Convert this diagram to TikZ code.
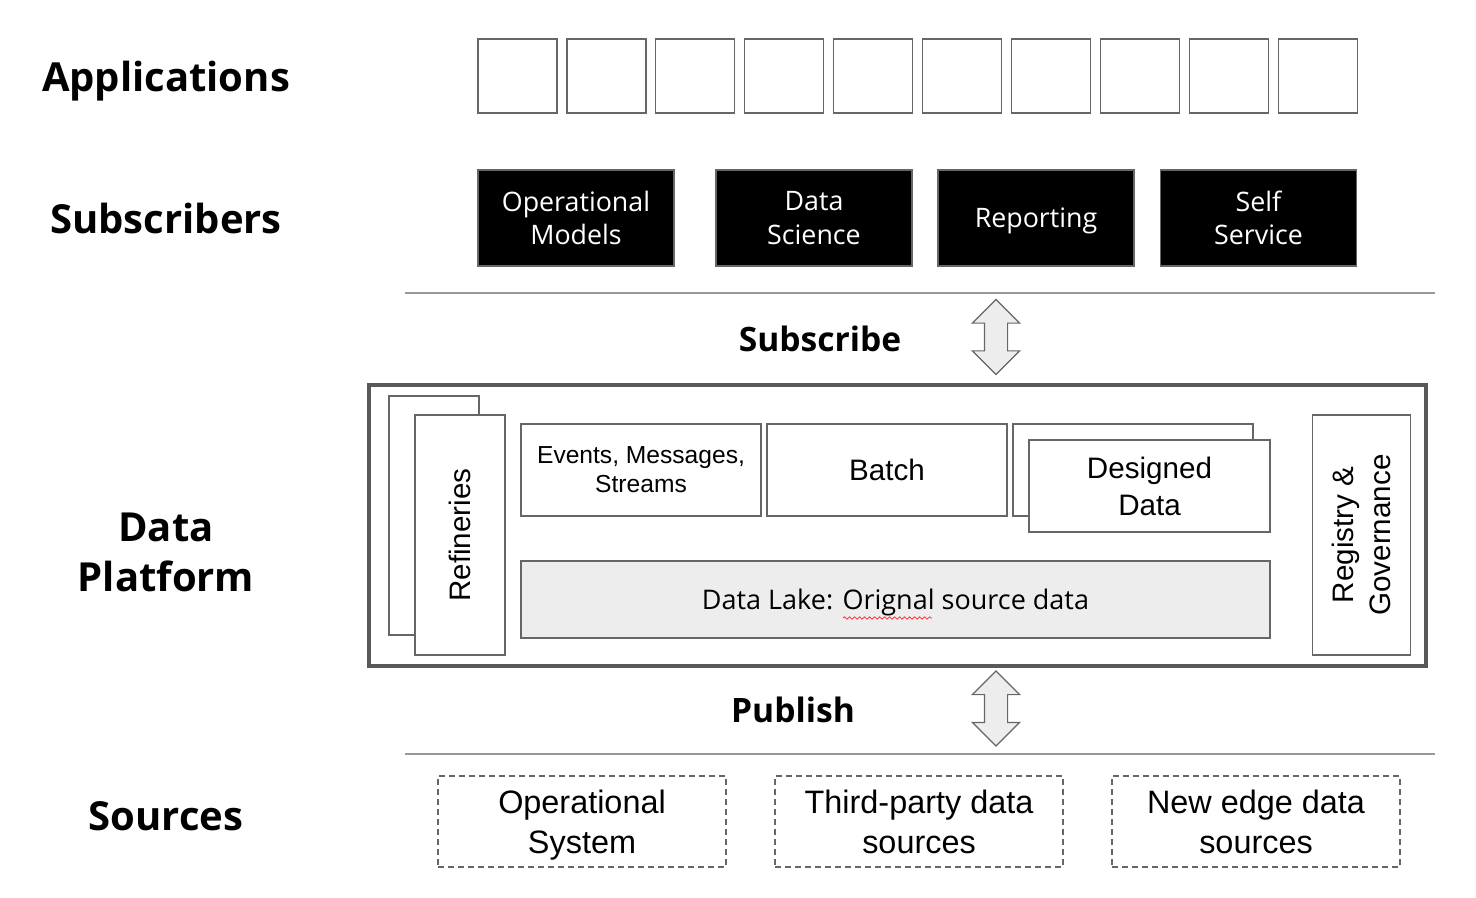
\documentclass[tikz,border=0pt]{standalone}
\usepackage{fontspec}
\setmainfont{Liberation Sans}
\newfontfamily\headfont{Open Sans}
\usetikzlibrary{shapes.arrows,decorations.pathmorphing}

\begin{document}
\begin{tikzpicture}[x=0.5pt,y=-0.5pt,
    every node/.style={inner sep=0pt},
    layer/.style={font=\headfont\bfseries\fontsize{20}{25}\selectfont, align=center},
    appbox/.style={draw=black!60, line width=0.6pt, minimum width=39.5pt, minimum height=37pt},
    subbox/.style={draw=black!60, fill=black, text=white, line width=0.6pt, minimum width=98pt, minimum height=48pt, align=center, font=\headfont\fontsize{13.4}{16.6}\selectfont},
    part/.style={draw=black!60, fill=white, line width=0.6pt, align=center, font=\fontsize{14.8}{18.5}\selectfont},
    source/.style={draw=black!60, dash pattern=on 3pt off 2pt, line width=0.6pt, minimum width=144pt, minimum height=45.5pt, align=center, text depth=0pt, font=\fontsize{16.2}{20}\selectfont},
    flow/.style={double arrow, draw=black!60, fill=black!7, line width=0.6pt, rotate=90, inner xsep=0pt, inner ysep=5.5pt, minimum height=37.5pt, minimum width=23pt, double arrow head extend=6pt}
  ]
  \useasboundingbox (0,0) rectangle (1476,898);

  % layer names
  \node[layer] (apps) at (166,81) {Applications};
  \node[layer] (subs) at (166,219) {Subscribers};
  \node[layer] (platform) at (166,552) {Data\\Platform};
  \node[layer] (srcs) at (166,816) {Sources};

  % applications
  \foreach \i in {0,...,9}
    \node[appbox] (app\i) at (517.5+88.9*\i,76) {};

  % subscribers
  \node[subbox] (opmodels) at (576,218) {Operational\\Models};
  \node[subbox] (science) at (814,218) {Data\\Science};
  \node[subbox, text depth=0pt] (reporting) at (1036,218) {Reporting};
  \node[subbox] (selfserv) at (1258.5,218) {Self\\Service};

  \coordinate (subL) at (405,293);
  \coordinate (subR) at (1435,293);
  \draw[black!40, line width=1pt] (subL) -- (subR);
  \node[layer, font=\headfont\bfseries\fontsize{16.8}{20}\selectfont] (subscribe) at (820,339) {Subscribe};
  \node[flow] (subarrow) at (996,337) {};

  % data platform
  \node[draw=black!65, line width=2.2pt, minimum width=528.5pt, minimum height=140.5pt] (dp) at (897.5,525.5) {};
  \node[part, minimum width=45pt, minimum height=119.5pt] (refback) at (434,515.5) {};
  \node[part, rotate=90, minimum width=120pt, minimum height=45pt] (refineries) at (460,535) {Refineries};
  \node[part, minimum width=120pt, minimum height=46pt, font=\fontsize{12.3}{14.6}\selectfont] (events) at (641,470) {Events, Messages,\\Streams};
  \node[part, minimum width=120pt, minimum height=46pt] (batch) at (887,470) {Batch};
  \node[part, minimum width=120pt, minimum height=46pt] (desback) at (1133,470) {};
  \node[part, minimum width=120.5pt, minimum height=46pt] (designed) at (1149.5,486) {Designed\\Data};
  \node[part, fill=black!7, minimum width=374.5pt, minimum height=38.5pt, text depth=0pt, font=\headfont\fontsize{13.5}{16}\selectfont] (lake) at (895.5,599.5) {Data Lake: Orignal source data};
  \draw[red!80, line width=0.4pt, decorate, decoration={snake, amplitude=0.6pt, segment length=2.5pt}] (843,618) -- (932,618);
  \node[part, rotate=90, minimum width=120pt, minimum height=49pt] (registry) at (1361.5,535) {Registry \&\\Governance};

  % publish
  \node[layer, font=\headfont\bfseries\fontsize{16.8}{20}\selectfont] (publish) at (793,710) {Publish};
  \node[flow] (pubarrow) at (996,708.5) {};
  \coordinate (srcL) at (405,754);
  \coordinate (srcR) at (1435,754);
  \draw[black!40, line width=1pt] (srcL) -- (srcR);

  % sources
  \node[source] (opsys) at (582,821.5) {Operational\\System};
  \node[source] (thirdparty) at (919,821.5) {Third-party data\\sources};
  \node[source] (newedge) at (1256,821.5) {New edge data\\sources};
\end{tikzpicture}
\end{document}
